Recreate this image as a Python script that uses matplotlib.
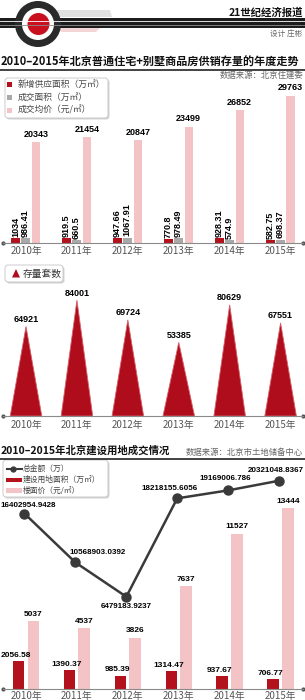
import matplotlib
matplotlib.use("Agg")
import numpy as np
import matplotlib.pyplot as plt
from matplotlib.patches import Circle, FancyBboxPatch, Polygon, Rectangle

plt.rcParams['font.family'] = ['Noto Sans CJK SC', 'DejaVu Sans']
NUM_FONT = ['Liberation Sans Narrow', 'Liberation Sans', 'DejaVu Sans']

# data
years = ['2010年', '2011年', '2012年', '2013年', '2014年', '2015年']
new_supply = [1034, 919.5, 947.66, 770.8, 928.31, 582.75]       # 万㎡
deal_area = [986.41, 660.5, 1067.91, 978.49, 574.9, 698.37]      # 万㎡
avg_price = [20343, 21454, 20847, 23499, 26852, 29763]           # 元/㎡
stock_units = [64921, 84001, 69724, 53385, 80629, 67551]
land_total = [16402954.9428, 10568903.0392, 6479183.9237,
              18218155.6056, 19169006.786, 20321048.8367]        # 万
land_area = [2056.58, 1390.37, 985.39, 1314.47, 937.67, 706.77]  # 万㎡
floor_price = [5037, 4537, 3826, 7637, 11527, 13444]             # 元/㎡

RED = '#b3121d'
GRAY = '#a9a9a9'
PINK = '#f3c3c5'
TRI = '#b00d1c'
LINE = '#3a3a3a'

W, H = 305, 700
fig = plt.figure(figsize=(W / 100, H / 100), dpi=100)


def px_axes(x0, y0, x1, y1):
    ax = fig.add_axes([x0 / W, 1 - y1 / H, (x1 - x0) / W, (y1 - y0) / H])
    ax.set_facecolor('none')
    return ax


def style_axis(ax, pad):
    for s in ['top', 'right', 'left']:
        ax.spines[s].set_visible(False)
    ax.spines['bottom'].set_color('#8a8a8a')
    ax.spines['bottom'].set_linewidth(0.8)
    ax.set_yticks([])
    ax.set_xticks(x, years)
    ax.tick_params(axis='x', length=0, pad=pad, labelsize=7, labelcolor='#555555')
    ax.set_xlim(-0.452, 5.44)
    ax.plot([0, 1], [0, 0], 'o', ms=2, color='#555555', transform=ax.transAxes, clip_on=False)


x = np.arange(len(years))

# background / decoration layer in pixel coordinates
bg = fig.add_axes([0, 0, 1, 1])
bg.set_xlim(0, W)
bg.set_ylim(H, 0)
bg.axis('off')

# header logo
bg.add_patch(Polygon([(50, 17), (57, 10), (110, 10), (112, 17)], closed=True, fc='#e0e0e0', ec='none'))
bg.add_patch(Polygon([(52, 28), (100, 28), (96, 32), (62, 32)], closed=True, fc='#f4d6d7', ec='none'))
bg.add_patch(Rectangle((0, 18), W, 10, fc='#1c1c1c', ec='none'))
bg.plot([0, W], [21.3, 21.3], color='white', lw=0.6)
bg.plot([0, W], [24.6, 24.6], color='#8c8c8c', lw=0.6)
bg.add_patch(Circle((38, 24), 23, fc='#2a2a2a', ec='none'))
bg.add_patch(Circle((38, 24), 16, fc='white', ec='none'))
bg.add_patch(Circle((38.5, 24), 11, fc='#c8101e', ec='none'))
bg.text(303, 13, '21世纪经济报道', ha='right', va='center', fontsize=7.5, fontweight='bold', color='#111111')
bg.text(302, 33.5, '设计 庄彬', ha='right', va='center', fontsize=5.5, color='#666666')

# section titles
bg.text(1, 62, '2010–2015年北京普通住宅+别墅商品房供销存量的年度走势', ha='left', va='center',
        fontsize=8, fontweight='bold', color='#111111')
bg.plot([0, W], [70, 70], color='#222222', lw=1.2)
bg.text(303, 75.5, '数据来源：北京住建委', ha='right', va='center', fontsize=6, color='#666666')

bg.text(1, 451, '2010–2015年北京建设用地成交情况', ha='left', va='center',
        fontsize=7.5, fontweight='bold', color='#111111')
bg.plot([0, W], [458.5, 458.5], color='#222222', lw=1.2)
bg.text(303, 452, '数据来源：北京市土地储备中心', ha='right', va='center', fontsize=6, color='#666666')


def box(x0, y0, w, h):
    bg.add_patch(FancyBboxPatch((x0 + 1.5, y0 + 1.5), w, h, boxstyle='round,pad=0,rounding_size=3',
                                fc='#d4d4d4', ec='none'))
    bg.add_patch(FancyBboxPatch((x0, y0), w, h, boxstyle='round,pad=0,rounding_size=3',
                                fc='white', ec='#c4c4c4', lw=0.6))


# legend 1
box(5, 78, 103, 40)
for yy, c, t in [(84.5, RED, '新增供应面积（万㎡）'), (97.5, GRAY, '成交面积（万㎡）'), (110, PINK, '成交均价（元/㎡）')]:
    bg.add_patch(Rectangle((6.5, yy - 2.5), 5, 5, fc=c, ec='none'))
    bg.text(18, yy, t, ha='left', va='center', fontsize=6.3, color='#444444')

# legend 2
box(5, 265, 58, 17)
bg.add_patch(Polygon([(12, 277.5), (16, 269), (20, 277.5)], closed=True, fc=TRI, ec='none'))
bg.text(23, 273.5, '存量套数', ha='left', va='center', fontsize=7, color='#333333')

# legend 3
box(3, 460, 105, 37)
bg.plot([7, 22], [469, 469], color=LINE, lw=1.5)
bg.plot([12.5], [469], 'o', color=LINE, ms=3.5)
bg.text(23, 469, '总金额（万）', ha='left', va='center', fontsize=5.6, color='#444444')
bg.add_patch(Rectangle((6, 477.5), 16, 4.5, fc=RED, ec='none'))
bg.text(23, 480, '建设用地面积（万㎡）', ha='left', va='center', fontsize=5.6, color='#444444')
bg.add_patch(Rectangle((6, 488), 16, 4.5, fc=PINK, ec='none'))
bg.text(23, 490.5, '楼面价（元/㎡）', ha='left', va='center', fontsize=5.6, color='#444444')

# chart 1: supply / deal area / avg price
ax1 = px_axes(3, 75, 303, 243)
ax1.bar(x - 0.205, new_supply, 0.18, color=RED)
ax1.bar(x - 0.01, deal_area, 0.18, color=GRAY)
ax1.bar(x + 0.195, avg_price, 0.16, color=PINK)
ax1.set_ylim(0, 34000)
style_axis(ax1, 2)
for xi, a, b, p in zip(x, new_supply, deal_area, avg_price):
    ax1.text(xi - 0.205, a + 250, str(a), rotation=90, ha='center', va='bottom',
             fontsize=6.5, fontweight='bold', family=NUM_FONT)
    ax1.text(xi - 0.01, b + 250, str(b), rotation=90, ha='center', va='bottom',
             fontsize=6.5, fontweight='bold', family=NUM_FONT)
    ax1.text(xi + 0.195, p + 700, str(p), ha='center', va='bottom',
             fontsize=6.5, fontweight='bold', family=NUM_FONT)

# chart 2: stock units triangles
ax2 = px_axes(3, 285, 303, 416)
for xi, v in zip(x, stock_units):
    ax2.fill([xi - 0.31, xi, xi + 0.31], [0, v, 0], fc=TRI, ec='#d6616b', lw=0.6)
    ax2.text(xi, v + 1900, str(v), ha='center', va='bottom', fontsize=6.5,
             fontweight='bold', family=NUM_FONT)
ax2.set_ylim(0, 95000)
style_axis(ax2, 3)

# chart 3: land area / floor price bars + total amount line
ax3 = px_axes(3, 470, 303, 689)
ax3.bar(x - 0.145, land_area, 0.23, color=RED)
ax3.bar(x + 0.145, floor_price, 0.23, color=PINK)
ax3.set_ylim(0, 16270)
style_axis(ax3, 1.5)
for xi, a, p in zip(x, land_area, floor_price):
    ax3.text(xi - 0.2, a + 200, str(a), ha='center', va='bottom', fontsize=6,
             fontweight='bold', family=NUM_FONT)
    ax3.text(xi + 0.145, p + 250, str(p), ha='center', va='bottom', fontsize=6,
             fontweight='bold', family=NUM_FONT)

ax3b = ax3.twinx()
ax3b.set_facecolor('none')
for s in ax3b.spines.values():
    s.set_visible(False)
ax3b.set_yticks([])
ax3b.set_ylim(-4.53e6, 21.6e6)
ax3b.plot(x - 0.03, land_total, color=LINE, lw=1.8, marker='o', ms=6.5, zorder=3)
offsets = [(4, 8), (22, 10), (0, -10), (-8, 10), (-3, 12), (-3, 10)]
for xi, v, off in zip(x, land_total, offsets):
    ax3b.annotate(str(v), (xi - 0.03, v), xytext=off, textcoords='offset pixels',
                  ha='center', va='center', fontsize=5.8, fontweight='bold', family=NUM_FONT)

fig.savefig('out.png', dpi=100)
